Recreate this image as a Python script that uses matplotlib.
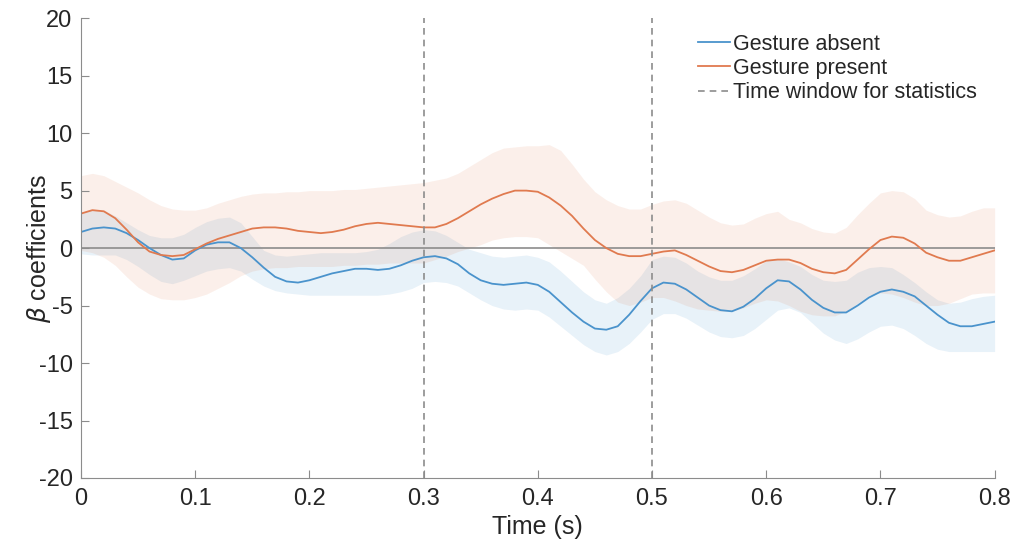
import numpy as np
import matplotlib.pyplot as plt

plt.rcParams['font.family'] = ['Liberation Sans', 'DejaVu Sans']
plt.rcParams['axes.unicode_minus'] = False

# time axis (s), sampled every 10 ms
t = np.round(np.arange(0, 0.801, 0.01), 2)

# gesture absent: mean and band edges
absent_mean = [1.4, 1.7, 1.8, 1.7, 1.3, 0.7, 0.0, -0.6, -1.0, -0.9,
               -0.2, 0.3, 0.5, 0.5, 0.0, -0.8, -1.7, -2.5, -2.9, -3.0,
               -2.8, -2.5, -2.2, -2.0, -1.8, -1.8, -1.9, -1.8, -1.5, -1.1,
               -0.8, -0.7, -0.9, -1.4, -2.2, -2.8, -3.1, -3.2, -3.1, -3.0,
               -3.2, -3.8, -4.7, -5.6, -6.4, -7.0, -7.1, -6.8, -5.8, -4.6,
               -3.5, -3.0, -3.1, -3.6, -4.3, -5.0, -5.4, -5.5, -5.1, -4.4,
               -3.5, -2.8, -2.9, -3.6, -4.5, -5.2, -5.6, -5.6, -5.0, -4.3,
               -3.8, -3.6, -3.8, -4.2, -5.0, -5.8, -6.5, -6.8, -6.8, -6.6,
               -6.4]
absent_hi = [3.1, 3.3, 3.3, 2.8, 2.2, 1.6, 1.1, 0.9, 0.9, 1.2,
             1.8, 2.3, 2.6, 2.7, 2.2, 1.0, -0.2, -0.6, -0.7, -0.6,
             -0.5, -0.4, -0.4, -0.4, -0.4, -0.3, -0.1, 0.4, 1.0, 1.4,
             1.6, 1.5, 1.1, 0.5, -0.1, -0.4, -0.7, -0.8, -0.7, -0.6,
             -0.8, -1.2, -2.0, -2.9, -3.8, -4.5, -4.8, -4.3, -3.5, -2.4,
             -1.0, -0.7, -0.8, -1.3, -2.0, -2.5, -2.8, -2.8, -2.4, -1.8,
             -1.1, -0.9, -1.2, -1.6, -2.3, -2.8, -2.9, -2.8, -2.1, -1.7,
             -1.6, -1.7, -2.3, -3.0, -3.8, -4.5, -4.8, -4.7, -4.4, -4.2,
             -4.1]
absent_lo = [-0.5, -0.6, -0.6, -0.6, -1.0, -1.6, -2.3, -2.9, -3.1, -2.8,
             -2.4, -2.0, -1.8, -1.7, -2.0, -2.7, -3.3, -3.7, -3.9, -4.0,
             -4.1, -4.1, -4.1, -4.1, -4.1, -4.1, -4.1, -4.0, -3.8, -3.5,
             -3.0, -2.9, -3.0, -3.3, -3.9, -4.5, -5.0, -5.3, -5.4, -5.3,
             -5.4, -6.0, -6.8, -7.6, -8.4, -9.0, -9.3, -9.0, -8.3, -7.3,
             -6.2, -5.7, -5.7, -6.1, -6.7, -7.3, -7.7, -7.8, -7.6, -7.0,
             -6.2, -5.4, -5.2, -5.6, -6.5, -7.4, -8.0, -8.3, -7.9, -7.3,
             -6.8, -6.7, -7.0, -7.6, -8.3, -8.8, -9.0, -9.0, -9.0, -9.0,
             -9.0]

# gesture present: mean and band edges
present_mean = [3.0, 3.3, 3.2, 2.6, 1.6, 0.5, -0.3, -0.6, -0.7, -0.6,
                -0.1, 0.4, 0.8, 1.1, 1.4, 1.7, 1.8, 1.8, 1.7, 1.5,
                1.4, 1.3, 1.4, 1.6, 1.9, 2.1, 2.2, 2.1, 2.0, 1.9,
                1.8, 1.8, 2.1, 2.6, 3.2, 3.8, 4.3, 4.7, 5.0, 5.0,
                4.9, 4.4, 3.7, 2.8, 1.7, 0.7, 0.0, -0.5, -0.7, -0.7,
                -0.5, -0.3, -0.2, -0.6, -1.1, -1.6, -2.0, -2.1, -1.9, -1.5,
                -1.1, -1.0, -1.0, -1.3, -1.8, -2.1, -2.2, -1.9, -1.0, -0.1,
                0.7, 1.0, 0.9, 0.4, -0.4, -0.8, -1.1, -1.1, -0.8, -0.5,
                -0.2]
present_hi = [6.3, 6.5, 6.3, 5.8, 5.3, 4.8, 4.2, 3.7, 3.4, 3.3,
              3.3, 3.5, 3.9, 4.2, 4.5, 4.7, 4.8, 4.8, 4.9, 4.9,
              5.0, 5.0, 5.0, 5.1, 5.1, 5.2, 5.3, 5.4, 5.5, 5.6,
              5.7, 5.9, 6.1, 6.5, 7.1, 7.7, 8.3, 8.7, 8.8, 8.9,
              8.9, 9.0, 8.5, 7.3, 6.0, 4.9, 4.2, 3.7, 3.4, 3.4,
              3.8, 4.1, 4.2, 3.9, 3.3, 2.7, 2.2, 2.0, 2.1, 2.6,
              3.0, 3.2, 2.5, 2.2, 1.7, 1.4, 1.3, 1.8, 2.9, 3.9,
              4.8, 5.0, 4.9, 4.3, 3.3, 2.9, 2.7, 2.8, 3.2, 3.5,
              3.5]
present_lo = [-0.2, -0.4, -0.8, -1.5, -2.5, -3.4, -4.0, -4.4, -4.5, -4.5,
              -4.3, -4.0, -3.5, -3.0, -2.4, -2.0, -1.8, -1.7, -1.7, -1.6,
              -1.6, -1.6, -1.6, -1.5, -1.5, -1.4, -1.4, -1.3, -1.3, -1.3,
              -1.3, -1.0, -0.7, -0.3, 0.0, 0.3, 0.7, 0.9, 1.0, 1.0,
              0.9, 0.3, -0.3, -0.9, -1.5, -2.7, -3.8, -4.7, -5.0, -4.7,
              -4.3, -4.3, -4.6, -5.0, -5.3, -5.4, -5.5, -5.5, -5.2, -4.8,
              -4.5, -4.6, -5.0, -5.5, -5.8, -5.9, -5.9, -5.5, -4.8, -4.1,
              -3.9, -4.0, -4.3, -4.7, -5.0, -5.0, -4.8, -4.4, -4.0, -3.9,
              -3.9]

stat_window = [0.3, 0.5]

blue = '#4a93cc'
orange = '#e07a4f'
grey = '#8c8c8c'
ink = '#262626'

fig = plt.figure(figsize=(10.17, 5.51), dpi=100)
ax = fig.add_axes([0.0796, 0.1325, 0.8984, 0.8345])

ax.fill_between(t, absent_lo, absent_hi, color='#0072bd', alpha=0.09, lw=0)
ax.fill_between(t, present_lo, present_hi, color='#d95319', alpha=0.09, lw=0)
ax.axhline(0, color=grey, lw=1.2, zorder=1)

ax.plot(t, absent_mean, color=blue, lw=1.3, label='Gesture absent')
ax.plot(t, present_mean, color=orange, lw=1.3, label='Gesture present')
for i, x in enumerate(stat_window):
    ax.axvline(x, color=grey, ls=(0, (4, 3)), lw=1.2,
               label='Time window for statistics' if i == 0 else None)

ax.set_xlim(0, 0.8)
ax.set_ylim(-20, 20)
ax.set_xticks(np.arange(0, 0.81, 0.1))
ax.set_xticklabels(['0', '0.1', '0.2', '0.3', '0.4', '0.5', '0.6', '0.7', '0.8'])
ax.set_yticks(np.arange(-20, 21, 5))

for side in ['top', 'right']:
    ax.spines[side].set_visible(False)
for side in ['left', 'bottom']:
    ax.spines[side].set_color(grey)
ax.tick_params(direction='in', length=6, color=grey, labelcolor=ink,
               labelsize=17)
ax.tick_params(axis='y', pad=6)
ax.tick_params(axis='x', pad=7)

ax.set_xlabel('Time (s)', fontsize=18, color=ink, labelpad=4)
ax.set_ylabel(r'$\beta$ coefficients', fontsize=18, color=ink)
ax.yaxis.set_label_coords(-0.031, 0.5)

leg = ax.legend(loc='upper left', bbox_to_anchor=(0.666, 0.985), frameon=False,
                fontsize=15.5, handlelength=1.5, handletextpad=0.1,
                labelspacing=0.15, borderaxespad=0)
for txt in leg.get_texts():
    txt.set_color(ink)

fig.savefig('out.png', dpi=100)
